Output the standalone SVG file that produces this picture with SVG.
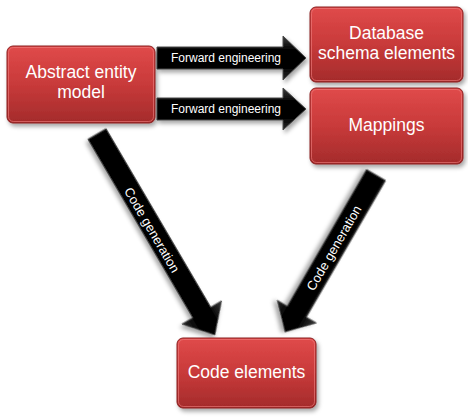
<svg xmlns="http://www.w3.org/2000/svg" width="468" height="419" viewBox="0 0 468 419">
  <defs>
    <linearGradient id="boxGrad" x1="0" y1="0" x2="0" y2="1">
      <stop offset="0" stop-color="#e04a4a"/>
      <stop offset="0.5" stop-color="#c83a3a"/>
      <stop offset="1" stop-color="#a42b2b"/>
    </linearGradient>
    <linearGradient id="arrowGrad" x1="0" y1="0" x2="0" y2="1">
      <stop offset="0" stop-color="#3c3c3c"/>
      <stop offset="0.3" stop-color="#050505"/>
      <stop offset="0.7" stop-color="#000000"/>
      <stop offset="1" stop-color="#2a2a2a"/>
    </linearGradient>
    <filter id="shadow" x="-10%" y="-10%" width="125%" height="130%">
      <feDropShadow dx="2" dy="3" stdDeviation="2" flood-color="#000" flood-opacity="0.35"/>
    </filter>
  </defs>
  <style>
    .box { fill: url(#boxGrad); stroke: #8a2020; stroke-width: 1; filter: url(#shadow); }
    .hl { fill: none; stroke: #f08080; stroke-opacity: 0.6; stroke-width: 1; }
    .lbl { font-family: "Liberation Sans", Arial, sans-serif; font-size: 17.5px; fill: #ffffff; text-anchor: middle; }
    .arr { fill: url(#arrowGrad); stroke: #4a4a4a; stroke-width: 1; stroke-linejoin: miter; filter: url(#shadow); }
    .alab { font-family: "Liberation Sans", Arial, sans-serif; font-size: 12px; fill: #ffffff; text-anchor: middle; }
    .clab { font-family: "Liberation Sans", Arial, sans-serif; font-size: 13px; fill: #ffffff; text-anchor: middle; }
  </style>

  <g id="connectors">
    <g id="fwd1">
      <polygon class="arr" points="157,47 283,47 283,36 306,58 283,80 283,69 157,69"/>
      <text class="alab" x="226" y="62">Forward engineering</text>
    </g>
    <g id="fwd2">
      <polygon class="arr" points="157,98 283,98 283,88 306,109 283,130 283,120 157,120"/>
      <text class="alab" x="226" y="113">Forward engineering</text>
    </g>
    <g id="codegen1">
      <polygon class="arr" transform="translate(97,134) rotate(59.6)" points="0,-10.5 207,-10.5 207,-23 233,0 207,23 207,10.5 0,10.5"/>
      <text class="clab" transform="translate(152,230) rotate(59.6)" x="0" y="4.5">Code generation</text>
    </g>
    <g id="codegen2">
      <polygon class="arr" transform="translate(376,175) rotate(120.1)" points="0,-11 158,-11 158,-22.6 181.5,0 158,22.6 158,11 0,11"/>
      <text class="clab" transform="translate(334,248) rotate(-59.9)" x="0" y="4.5">Code generation</text>
    </g>
  </g>

  <g id="abstract-entity-model">
    <rect class="box" x="7" y="46" width="148" height="77" rx="6"/>
    <rect class="hl" x="8.5" y="47.5" width="145" height="74" rx="5"/>
    <text class="lbl" x="81" y="78">Abstract entity</text>
    <text class="lbl" x="81" y="98">model</text>
  </g>

  <g id="database-schema-elements">
    <rect class="box" x="310" y="7" width="153" height="75" rx="6"/>
    <rect class="hl" x="311.5" y="8.5" width="150" height="72" rx="5"/>
    <text class="lbl" x="386.5" y="39">Database</text>
    <text class="lbl" x="386.5" y="59">schema elements</text>
  </g>

  <g id="mappings">
    <rect class="box" x="310" y="88" width="153" height="76" rx="6"/>
    <rect class="hl" x="311.5" y="89.5" width="150" height="73" rx="5"/>
    <text class="lbl" x="386.5" y="131">Mappings</text>
  </g>

  <g id="code-elements">
    <rect class="box" x="177" y="338" width="139" height="70" rx="6"/>
    <rect class="hl" x="178.5" y="339.5" width="136" height="67" rx="5"/>
    <text class="lbl" x="246.5" y="378">Code elements</text>
  </g>
</svg>
